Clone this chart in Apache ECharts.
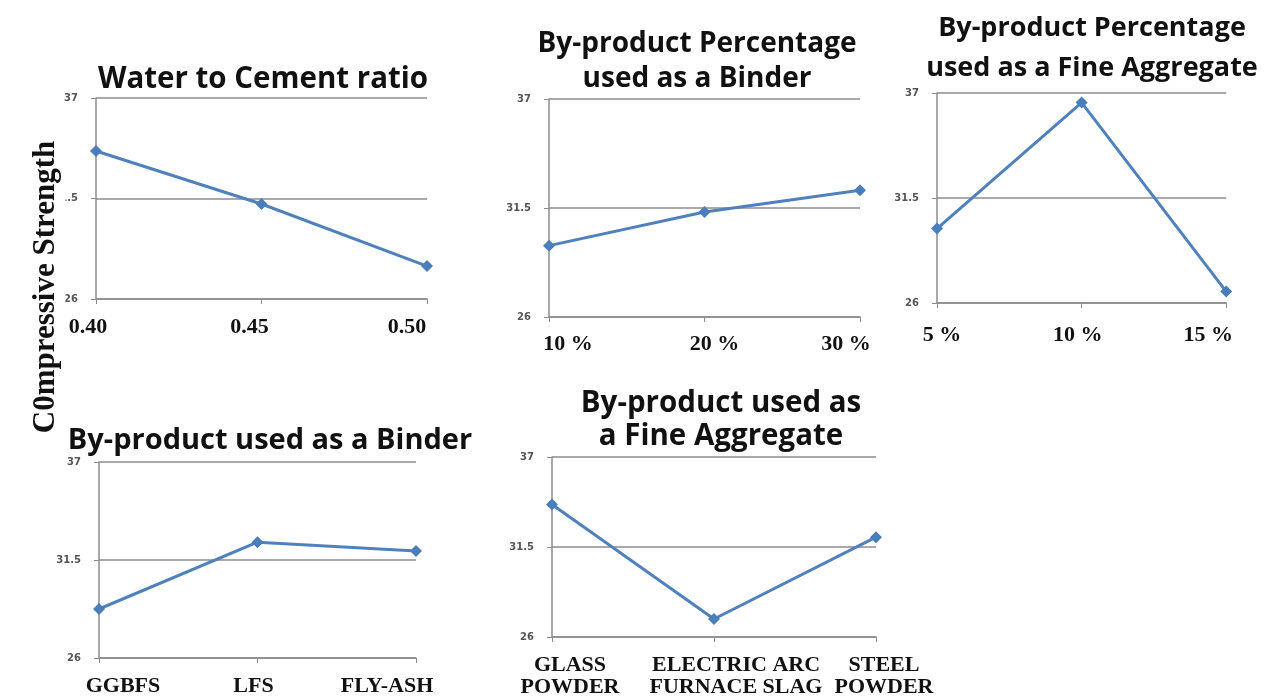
<!DOCTYPE html>
<html>
<head>
<meta charset="utf-8">
<style>
  html, body { margin: 0; padding: 0; background: #ffffff; }
  #chart { width: 1272px; height: 698px; }
</style>
<script src="https://cdn.jsdelivr.net/npm/echarts@6/dist/echarts.min.js"></script>
</head>
<body>
<div id="chart"></div>
<script>
// Compressive strength (MPa) for each mix parameter
const wcRatio = ['0.40', '0.45', '0.50'];
const wcStrength = [34.1, 31.2, 27.8];

const binderPct = ['10 %', '20 %', '30 %'];
const binderPctStrength = [29.6, 31.3, 32.4];

const finePct = ['5 %', '10 %', '15 %'];
const finePctStrength = [29.9, 36.5, 26.6];

const binderType = ['GGBFS', 'LFS', 'FLY-ASH'];
const binderTypeStrength = [28.75, 32.5, 32.0];

const fineType = ['GLASS\nPOWDER', 'ELECTRIC ARC\nFURNACE SLAG', 'STEEL\nPOWDER'];
const fineTypeStrength = [34.1, 27.1, 32.1];

const strengthTicks = [26, 31.5, 37];

// Panel layout: plot box, title lines (text, centre x, centre y, size) and per-label nudges
const panels = [
  { cats: wcRatio, vals: wcStrength, box: [96, 98, 331, 201], labelMargin: 17,
    shifts: [-8, -12, -20], title: [['Water to Cement ratio', 258, 76, 29.5]] },
  { cats: binderPct, vals: binderPctStrength, box: [549, 99, 311, 218], labelMargin: 16,
    shifts: [19, 10, -14], title: [['By-product Percentage', 692, 40, 28], ['used as a Binder', 692, 75, 28]] },
  { cats: finePct, vals: finePctStrength, box: [937, 93, 310, 210], labelMargin: 21,
    shifts: [5, -4, -18], title: [['By-product Percentage', 1087, 24, 27], ['used as a Fine Aggregate', 1087, 64, 27]] },
  { cats: binderType, vals: binderTypeStrength, box: [99, 462, 317, 196], labelMargin: 17,
    shifts: [24, -4, -29], title: [['By-product used as a Binder', 265, 437, 29]] },
  { cats: fineType, vals: fineTypeStrength, box: [552, 457, 324, 180], labelMargin: 17,
    shifts: [18, 22, 8], title: [['By-product used as', 716, 400, 29.5], ['a Fine Aggregate', 716, 433, 29.5]] }
];

const gridColor = '#8c8c8c';
const lineBlue = '#4F81BD';

const grid = [], xAxis = [], yAxis = [], series = [], title = [];

panels.forEach((p, i) => {
  grid.push({ left: p.box[0], top: p.box[1], width: p.box[2], height: p.box[3], containLabel: false });

  const rich = {};
  p.shifts.forEach((s, k) => {
    rich['i' + k] = { padding: s >= 0 ? [0, 0, 0, 2 * s] : [0, -2 * s, 0, 0] };
  });

  xAxis.push({
    type: 'category', gridIndex: i, data: p.cats, boundaryGap: false,
    axisLine: { show: true, lineStyle: { color: gridColor, width: 1.5 } },
    axisTick: { show: true, alignWithLabel: true, length: 5, lineStyle: { color: gridColor } },
    axisLabel: {
      margin: p.labelMargin, interval: 0,
      fontFamily: 'Liberation Serif', fontWeight: 'bold', fontSize: 22, color: '#111',
      lineHeight: 22,
      formatter: (v, k) => v.split('\n').map(t => '{i' + k + '|' + t + '}').join('\n'),
      rich: rich
    },
    splitLine: { show: false }
  });

  yAxis.push({
    type: 'value', gridIndex: i, min: 26, max: 37,
    axisLine: { show: true, lineStyle: { color: gridColor, width: 1.5 } },
    axisTick: { show: true, length: 5, customValues: strengthTicks, lineStyle: { color: gridColor } },
    axisLabel: {
      margin: 18, customValues: strengthTicks,
      fontFamily: 'DejaVu Sans', fontWeight: 'bold', fontSize: 10, color: '#555'
    },
    splitLine: { show: true, lineStyle: { color: gridColor, width: 1.5 } }
  });

  series.push({
    type: 'line', xAxisIndex: i, yAxisIndex: i, data: p.vals,
    symbol: 'diamond', symbolSize: 12, showSymbol: true,
    lineStyle: { color: lineBlue, width: 3 },
    itemStyle: { color: '#4A7EBB' },
    silent: true
  });

  p.title.forEach(([txt, x, y, size]) => {
    title.push({
      text: txt, left: x, top: y - size * 0.7, textAlign: 'center',
      textStyle: { fontFamily: 'Open Sans', fontWeight: 'bold', fontSize: size, color: '#111', lineHeight: size * 1.33 }
    });
  });
});

const chart = echarts.init(document.getElementById('chart'), null, { renderer: 'canvas' });
chart.setOption({
  backgroundColor: '#ffffff',
  animation: false,
  title: title,
  grid: grid,
  xAxis: xAxis,
  yAxis: yAxis,
  series: series,
  graphic: [{
    type: 'text',
    x: 46, y: 287, rotation: Math.PI / 2,
    style: {
      text: 'C0mpressive Strength',
      fontFamily: 'Liberation Serif', fontWeight: 'bold', fontSize: 31, fill: '#111',
      align: 'center', verticalAlign: 'middle',
      backgroundColor: '#ffffff', padding: [4, 5]
    },
    z: 100
  }]
});
</script>
</body>
</html>
